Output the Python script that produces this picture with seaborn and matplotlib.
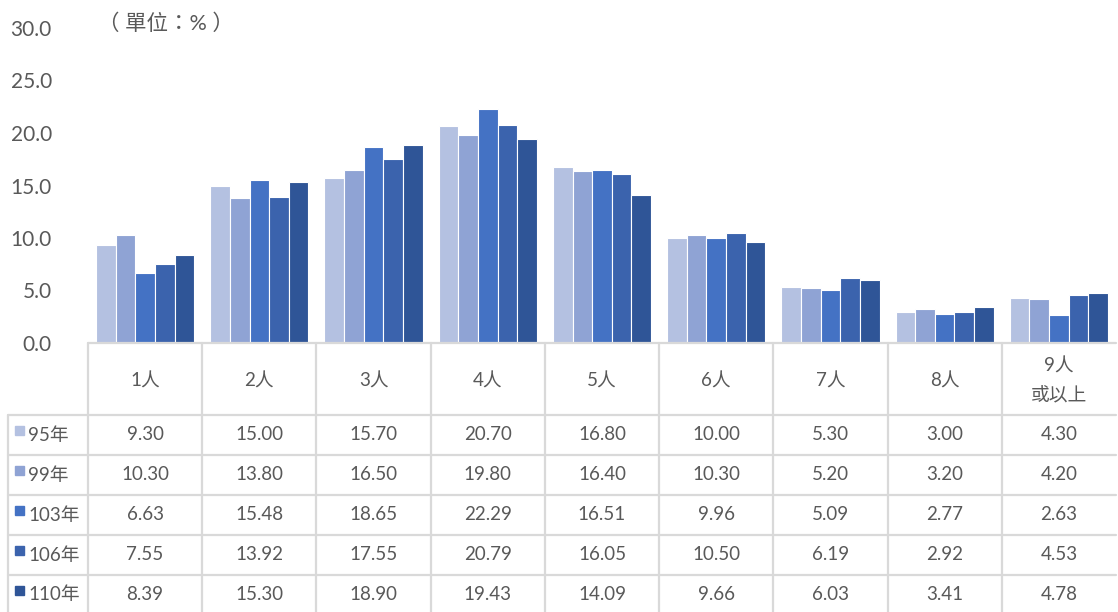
import numpy as np
import pandas as pd
import matplotlib.pyplot as plt
import seaborn as sns
from matplotlib.patches import Rectangle

categories = ["1人", "2人", "3人", "4人", "5人", "6人", "7人", "8人", "9人\n或以上"]
years = ["95年", "99年", "103年", "106年", "110年"]
v95 = [9.30, 15.00, 15.70, 20.70, 16.80, 10.00, 5.30, 3.00, 4.30]
v99 = [10.30, 13.80, 16.50, 19.80, 16.40, 10.30, 5.20, 3.20, 4.20]
v103 = [6.63, 15.48, 18.65, 22.29, 16.51, 9.96, 5.09, 2.77, 2.63]
v106 = [7.55, 13.92, 17.55, 20.79, 16.05, 10.50, 6.19, 2.92, 4.53]
v110 = [8.39, 15.30, 18.90, 19.43, 14.09, 9.66, 6.03, 3.41, 4.78]
series = [v95, v99, v103, v106, v110]
colors = ["#B4C1E1", "#8FA3D4", "#4472C4", "#3B63AD", "#2F5597"]
yticks = [0, 5, 10, 15, 20, 25, 30]

sns.set_theme(style="white")
plt.rcParams["font.family"] = ["Lato", "Noto Sans CJK TC", "DejaVu Sans"]
TXT = "#595959"
GRID = "#D9D9D9"

df = pd.DataFrame({
    "cat": np.tile(categories, len(years)),
    "year": np.repeat(years, len(categories)),
    "val": np.concatenate(series),
})

W, H = 1118, 612
fig = plt.figure(figsize=(W / 100, H / 100), dpi=100)

# bar area in pixel terms: x 88..1116, y 28 (30.0) .. 343 (0.0)
ax = fig.add_axes([88 / W, (H - 343) / H, (1116 - 88) / W, (343 - 28) / H])
sns.barplot(data=df, x="cat", y="val", hue="year", palette=colors,
            saturation=1, width=0.86, edgecolor="white", linewidth=0.8,
            ax=ax, legend=False, errorbar=None)
ax.set_xlim(-0.5, len(categories) - 0.5)
ax.set_ylim(0, 30)
ax.set_yticks(yticks)
ax.set_yticklabels([f"{t:.1f}" for t in yticks], color=TXT, fontsize=15)
ax.tick_params(axis="y", length=0, pad=26)
ax.set_xticks([])
ax.set_xlabel("")
ax.set_ylabel("")
sns.despine(ax=ax, left=True, bottom=True)
ax.patch.set_alpha(0)

fig.text(98 / W, 1 - 24 / H, "（ 單位：% ）", color=TXT, fontsize=15.5,
         va="center", ha="left")

# data table drawn in pixel coordinates
tb = fig.add_axes([0, 0, 1, 1])
tb.set_xlim(0, W)
tb.set_ylim(H, 0)
tb.axis("off")
tb.patch.set_alpha(0)

x0, x1 = 88, 1116
colw = (x1 - x0) / len(categories)
rows = [415, 455, 495, 535, 575, 614]
lw = 1.6

tb.plot([x0, x1], [343, 343], color=GRID, lw=lw)
for r in rows[:-1]:
    tb.plot([8, x1], [r, r], color=GRID, lw=lw)
tb.plot([8, 8], [415, H], color=GRID, lw=lw)
for i in range(len(categories)):
    xl = x0 + colw * i
    tb.plot([xl, xl], [343, H], color=GRID, lw=lw)

for i, c in enumerate(categories):
    xc = x0 + colw * (i + 0.5)
    tb.text(xc, 381, c, ha="center", va="center", color=TXT, fontsize=13.5,
            linespacing=1.9)

for j, (yr, vals) in enumerate(zip(years, series)):
    yc = (rows[j] + rows[j + 1]) / 2
    tb.add_patch(Rectangle((15, yc - 9), 9, 9, color=colors[j]))
    tb.text(28, yc, yr, ha="left", va="center", color=TXT, fontsize=13.5)
    for i, v in enumerate(vals):
        xc = x0 + colw * (i + 0.5)
        tb.text(xc, yc, f"{v:.2f}", ha="center", va="center", color=TXT,
                fontsize=13.5)

fig.savefig("out.png", dpi=100)
